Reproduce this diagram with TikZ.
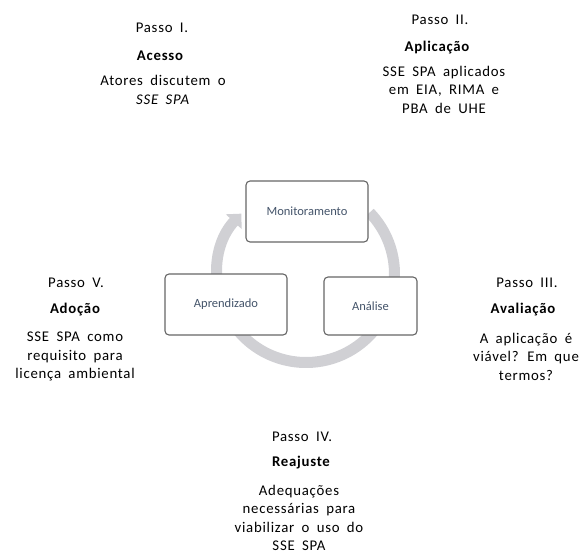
\documentclass[tikz,border=0pt]{standalone}
\usepackage{fontspec}
\setmainfont{Carlito}
\newfontfamily\largo[LetterSpace=5, WordSpace=1.8]{Carlito}
\usetikzlibrary{arrows.meta}

\definecolor{anel}{RGB}{208,208,212}
\definecolor{rotulo}{RGB}{68,84,106}

\tikzset{
  passo/.style={inner sep=0pt, font=\largo\fontsize{14.8}{16}\selectfont},
  titulo/.style={inner sep=0pt, font=\largo\fontsize{14.8}{16}\selectfont\bfseries},
  texto/.style={inner sep=0pt, align=center, font=\largo\fontsize{14.8}{18.5}\selectfont},
  caixa/.style={draw=black!60, line width=1.1pt, fill=white, rounded corners=4pt,
    text=rotulo, font=\fontsize{12.5}{14}\selectfont}
}

\begin{document}
\begin{tikzpicture}[x=1pt, y=-1pt]
  \useasboundingbox (0,0) rectangle (584,554);

  % cycle ring
  \draw[anel, line width=11pt, -{Triangle[width=21pt, length=11pt]}]
    (306,274) ++(-44:88.5) arc[start angle=-44, end angle=223, radius=88.5];

  % cycle boxes
  \node[caixa, minimum width=122pt, minimum height=61pt] (monit) at (307,211.5){Monitoramento};
  \node[caixa, minimum width=122pt, minimum height=61pt] (aprend) at (226,304.5){Aprendizado};
  \node[caixa, minimum width=93pt, minimum height=58pt] (analise) at (370.5,306){Análise};

  % step I
  \node[passo] (passoI) at (162,28){Passo I.};
  \node[titulo] (tituloI) at (160,56){Acesso};
  \node[texto] (textoI) at (163,90){Atores discutem o\\\textit{SSE SPA}};

  % step II
  \node[passo] (passoII) at (440,20){Passo II.};
  \node[titulo] (tituloII) at (437,48){Aplicação};
  \node[texto] (textoII) at (444,89.5){SSE SPA aplicados\\em EIA, RIMA e\\PBA de UHE};

  % step III
  \node[passo] (passoIII) at (527,283){Passo III.};
  \node[titulo] (tituloIII) at (523,310){Avaliação};
  \node[texto] (textoIII) at (526,356.5){A aplicação é\\viável? Em que\\termos?};

  % step IV
  \node[passo] (passoIV) at (302,437){Passo IV.};
  \node[titulo] (tituloIV) at (301,463){Reajuste};
  \node[texto] (textoIV) at (299,518){Adequações\\necessárias para\\viabilizar o uso do\\SSE SPA};

  % step V
  \node[passo] (passoV) at (76,283){Passo V.};
  \node[titulo] (tituloV) at (75,310){Adoção};
  \node[texto] (textoV) at (75,356.5){SSE SPA como\\requisito para\\licença ambiental};

\end{tikzpicture}
\end{document}
